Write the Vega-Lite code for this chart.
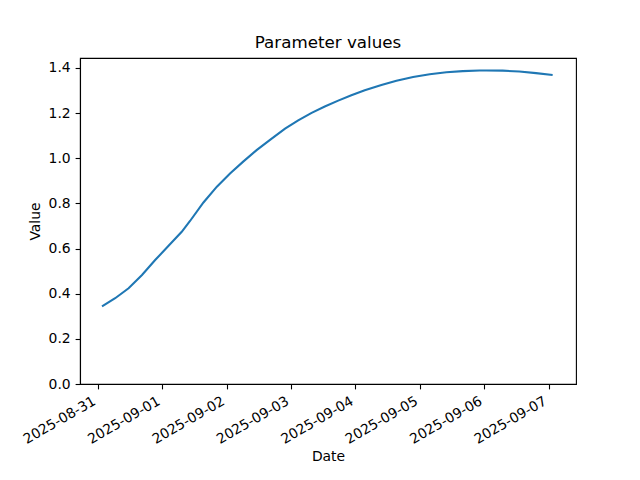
{
  "$schema": "https://vega.github.io/schema/vega-lite/v6.json",
  "width": 496,
  "height": 326,
  "autosize": {"type": "none"},
  "padding": {"left": 80, "top": 58, "right": 64, "bottom": 96},
  "background": "white",
  "title": {"text": "Parameter values", "font": "DejaVu Sans", "fontSize": 16.7, "fontWeight": "normal", "color": "black", "offset": 6, "anchor": "middle"},
  "config": {
    "view": {"stroke": "black", "strokeWidth": 1.1},
    "axis": {
      "labelFont": "DejaVu Sans", "labelFontSize": 13.9, "labelColor": "black",
      "titleFont": "DejaVu Sans", "titleFontSize": 13.9, "titleFontWeight": "normal", "titleColor": "black",
      "domainColor": "black", "domainWidth": 1.1, "tickColor": "black", "tickWidth": 1.1, "tickSize": 4.9,
      "labelPadding": 4.9, "grid": false
    }
  },
  "data": {"values": [
    {"date": "2025-08-31T01:36:00", "value": 0.344},
    {"date": "2025-08-31T06:30:00", "value": 0.380},
    {"date": "2025-08-31T11:30:00", "value": 0.424},
    {"date": "2025-08-31T16:30:00", "value": 0.483},
    {"date": "2025-08-31T21:24:00", "value": 0.549},
    {"date": "2025-09-01T02:24:00", "value": 0.612},
    {"date": "2025-09-01T07:18:00", "value": 0.674},
    {"date": "2025-09-01T10:24:00", "value": 0.722},
    {"date": "2025-09-01T15:24:00", "value": 0.804},
    {"date": "2025-09-01T20:24:00", "value": 0.874},
    {"date": "2025-09-02T01:18:00", "value": 0.932},
    {"date": "2025-09-02T06:12:00", "value": 0.985},
    {"date": "2025-09-02T11:12:00", "value": 1.036},
    {"date": "2025-09-02T16:12:00", "value": 1.081},
    {"date": "2025-09-02T21:48:00", "value": 1.131},
    {"date": "2025-09-03T02:42:00", "value": 1.168},
    {"date": "2025-09-03T07:42:00", "value": 1.201},
    {"date": "2025-09-03T12:36:00", "value": 1.229},
    {"date": "2025-09-03T17:36:00", "value": 1.255},
    {"date": "2025-09-03T22:30:00", "value": 1.279},
    {"date": "2025-09-04T03:30:00", "value": 1.301},
    {"date": "2025-09-04T09:42:00", "value": 1.324},
    {"date": "2025-09-04T15:18:00", "value": 1.343},
    {"date": "2025-09-04T21:30:00", "value": 1.360},
    {"date": "2025-09-05T03:42:00", "value": 1.372},
    {"date": "2025-09-05T09:54:00", "value": 1.381},
    {"date": "2025-09-05T16:00:00", "value": 1.386},
    {"date": "2025-09-05T22:18:00", "value": 1.389},
    {"date": "2025-09-06T00:42:00", "value": 1.389},
    {"date": "2025-09-06T06:54:00", "value": 1.388},
    {"date": "2025-09-06T13:06:00", "value": 1.384},
    {"date": "2025-09-06T19:18:00", "value": 1.377},
    {"date": "2025-09-07T01:30:00", "value": 1.369}
  ]},
  "mark": {"type": "line", "color": "#1f77b4", "strokeWidth": 2.08, "clip": true},
  "encoding": {
    "x": {
      "field": "date", "type": "temporal", "title": "Date",
      "scale": {"domain": [
        {"year": 2025, "month": "aug", "date": 30, "hours": 17, "minutes": 24},
        {"year": 2025, "month": "sep", "date": 7, "hours": 10, "minutes": 12}
      ]},
      "axis": {
        "values": [
          {"year": 2025, "month": "aug", "date": 31},
          {"year": 2025, "month": "sep", "date": 1},
          {"year": 2025, "month": "sep", "date": 2},
          {"year": 2025, "month": "sep", "date": 3},
          {"year": 2025, "month": "sep", "date": 4},
          {"year": 2025, "month": "sep", "date": 5},
          {"year": 2025, "month": "sep", "date": 6},
          {"year": 2025, "month": "sep", "date": 7}
        ],
        "format": "%Y-%m-%d", "labelAngle": -30, "labelAlign": "right", "labelBaseline": "top",
        "labelOffset": -7, "labelOverlap": false, "labelFlush": false, "titlePadding": 3
      }
    },
    "y": {
      "field": "value", "type": "quantitative", "title": "Value",
      "scale": {"domain": [0, 1.444], "nice": false, "zero": false},
      "axis": {"values": [0, 0.2, 0.4, 0.6, 0.8, 1.0, 1.2, 1.4], "format": ".1f", "titlePadding": 6}
    }
  }
}
